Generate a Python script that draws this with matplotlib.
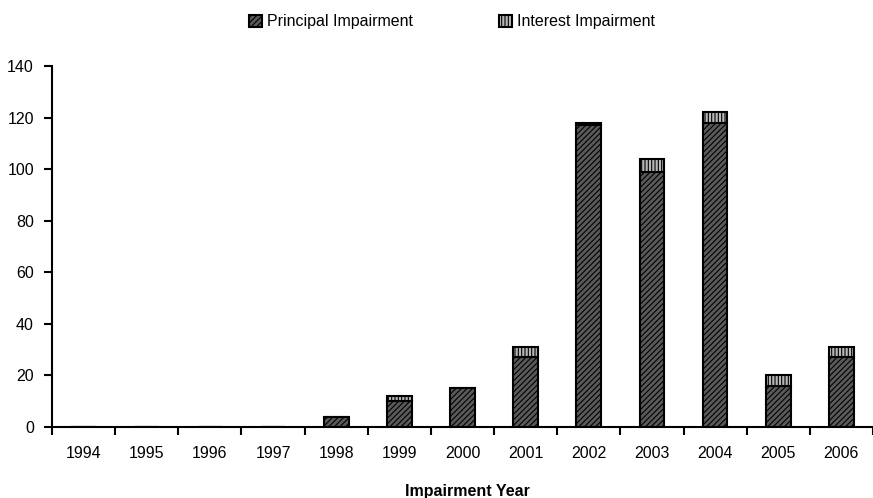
import matplotlib.pyplot as plt
import numpy as np

plt.rcParams['font.family'] = ['Liberation Sans', 'DejaVu Sans']
plt.rcParams['hatch.linewidth'] = 0.8

years = ['1994', '1995', '1996', '1997', '1998', '1999', '2000',
         '2001', '2002', '2003', '2004', '2005', '2006']
principal = [0, 0, 0, 0, 4, 10, 15, 27, 117, 99, 118, 16, 27]
interest = [0, 0, 0, 0, 0, 2, 0, 4, 1, 5, 4, 4, 4]

fig = plt.figure(figsize=(8.73, 4.98), dpi=100)
ax = fig.add_axes([52 / 873, 71 / 498, 1 - 52 / 873, 361 / 498])

x = np.arange(len(years))
w = 0.39
ax.bar(x, principal, w, color='#5a5a5a', edgecolor='black', linewidth=1.5,
       hatch='//////', label='Principal Impairment')
ax.bar(x, interest, w, bottom=principal, color='#b8b8b8', edgecolor='black',
       linewidth=1.5, hatch='|||||', label='Interest Impairment')

ax.set_ylim(0, 140)
ax.set_yticks(range(0, 141, 20))
ax.set_xlim(-0.5, 12.36)
ax.set_xticks(x)
ax.set_xticklabels(years)
ax.set_xticks(np.arange(-0.5, 13, 1), minor=True)
ax.tick_params(axis='x', which='major', length=0, pad=14, labelsize=11.5)
ax.tick_params(axis='x', which='minor', length=6, width=1.5, direction='out')
ax.tick_params(axis='y', length=6, width=1.5, labelsize=11.5, pad=7)

for s in ['top', 'right']:
    ax.spines[s].set_visible(False)
for s in ['left', 'bottom']:
    ax.spines[s].set_linewidth(1.5)

# x label sits near the bottom edge, slightly cut like the original
fig.text(467 / 873, 7 / 498, 'Impairment Year', ha='center', va='center',
         fontweight='bold', fontsize=11.5)

fig.legend(loc='upper center', bbox_to_anchor=(452 / 873, 1.0), ncol=2,
           frameon=False, fontsize=11.5, handlelength=0.8, handleheight=0.8,
           columnspacing=5.4, handletextpad=0.3)

fig.savefig('out.png', dpi=100)
